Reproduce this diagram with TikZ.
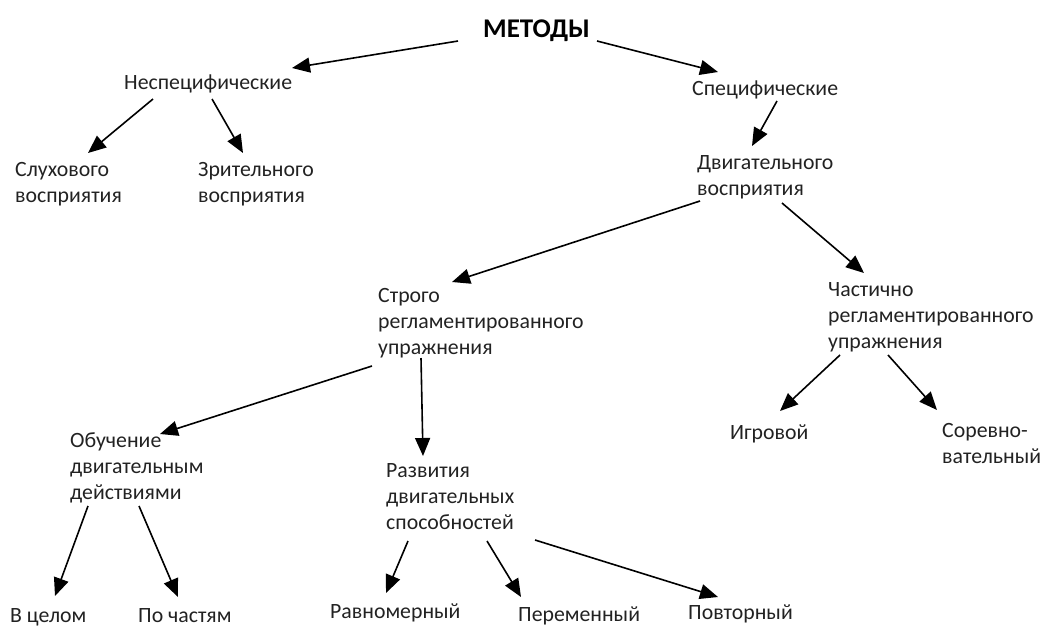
\documentclass[tikz,border=0pt]{standalone}
\usepackage{fontspec}
\setmainfont{Carlito}
\usetikzlibrary{arrows.meta}
\definecolor{txt}{HTML}{222222}
\tikzset{
  lbl/.style={anchor=base west, inner sep=0pt, align=left, text=txt,
    font=\fontsize{21.8}{26}\selectfont},
  ttl/.style={anchor=base west, inner sep=0pt, text=black,
    font=\fontsize{27}{30}\selectfont\bfseries},
  arr/.style={line width=1.6pt, -{Triangle[length=18pt,width=15pt]}}
}
\begin{document}
\begin{tikzpicture}[x=1pt,y=-1pt]
\useasboundingbox (0,0) rectangle (1046,625);
\node[ttl] (T) at (483,37) {МЕТОДЫ};
\node[lbl] (N) at (124,89) {Неспецифические};
\node[lbl] (S) at (692,95) {Специфические};
\node[lbl] (A1) at (15,202) {Слухового\\восприятия};
\node[lbl] (A2) at (198,202) {Зрительного\\восприятия};
\node[lbl] (D) at (697,195) {Двигательного\\восприятия};
\node[lbl] (R1) at (378,354) {Строго\\регламентированного\\упражнения};
\node[lbl] (R2) at (828,348) {Частично\\регламентированного\\упражнения};
\node[lbl] (O) at (70,499) {Обучение\\двигательным\\действиями};
\node[lbl] (Rz) at (386,529) {Развития\\двигательных\\способностей};
\node[lbl] (I) at (730,439) {Игровой};
\node[lbl] (Sr) at (942,463) {Соревно-\\вательный};
\node[lbl] (B) at (10,622) {В целом};
\node[lbl] (P) at (138,622) {По частям};
\node[lbl] (Rm) at (330,618) {Равномерный};
\node[lbl] (Pe) at (518,621) {Переменный};
\node[lbl] (Po) at (688,619) {Повторный};

\draw[arr] ([shift={(-25,4)}]T.base west) -- ([shift={(168,-21)}]N.base west);
\draw[arr] ([shift={(114,4)}]T.base west) -- ([shift={(26,-23)}]S.base west);
\draw[arr] ([shift={(29,10)}]N.base west) -- ([shift={(73,-49)}]A1.base west);
\draw[arr] ([shift={(88,10)}]N.base west) -- ([shift={(45,-49)}]A2.base west);
\draw[arr] ([shift={(85,6)}]S.base west) -- ([shift={(55,-49)}]D.base west);
\draw[arr] ([shift={(3,6)}]D.base west) -- ([shift={(74,-72)}]R1.base west);
\draw[arr] ([shift={(85,8)}]D.base west) -- ([shift={(36,-75)}]R2.base west);
\draw[arr] ([shift={(-6,12)}]R1.base west) -- ([shift={(90,-65)}]O.base west);
\draw[arr] ([shift={(43,4)}]R1.base west) -- ([shift={(37,-73)}]Rz.base west);
\draw[arr] ([shift={(12,7)}]R2.base west) -- ([shift={(50,-28)}]I.base west);
\draw[arr] ([shift={(60,7)}]R2.base west) -- ([shift={(-5,-53)}]Sr.base west);
\draw[arr] ([shift={(18,7)}]O.base west) -- ([shift={(45,-26)}]B.base west);
\draw[arr] ([shift={(69,7)}]O.base west) -- ([shift={(40,-25)}]P.base west);
\draw[arr] ([shift={(22,12)}]Rz.base west) -- ([shift={(56,-25)}]Rm.base west);
\draw[arr] ([shift={(101,12)}]Rz.base west) -- ([shift={(3,-24)}]Pe.base west);
\draw[arr] ([shift={(149,11)}]Rz.base west) -- ([shift={(30,-22)}]Po.base west);
\end{tikzpicture}
\end{document}
